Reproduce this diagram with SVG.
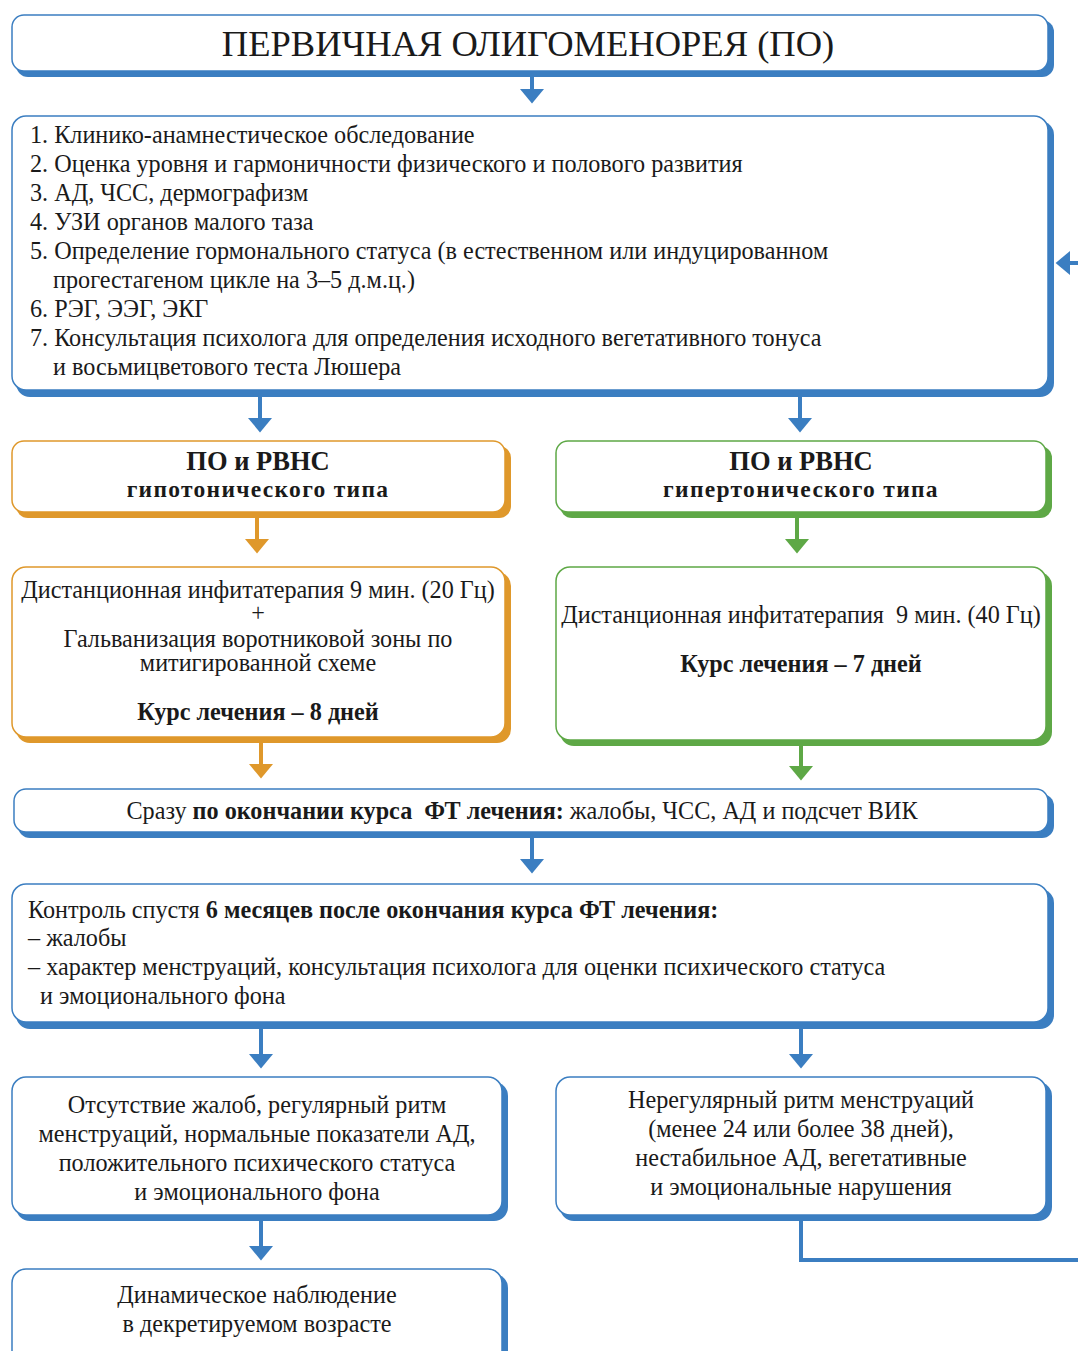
<svg xmlns="http://www.w3.org/2000/svg" width="1078" height="1351" viewBox="0 0 1078 1351">
<defs>
<style>
text{font-family:"Liberation Serif","Times New Roman",serif;fill:#1a1a1a;}
.t{font-size:24.2px;}
.c{text-anchor:middle;}
.b{font-weight:bold;}
.h1{font-size:26.5px;font-weight:bold;}
.h2{font-size:23.5px;font-weight:bold;letter-spacing:1.3px;}
.sb{fill:#3B7EC1;}
.so{fill:#DF982B;}
.sg{fill:#5EA846;}
.mb{fill:#fff;stroke:#3B7EC1;stroke-width:1.5;}
.mo{fill:#fff;stroke:#DF982B;stroke-width:1.5;}
.mg{fill:#fff;stroke:#5EA846;stroke-width:1.5;}
.lb{stroke:#3B7EC1;stroke-width:4;fill:none;}
.lo{stroke:#DF982B;stroke-width:4;fill:none;}
.lg{stroke:#5EA846;stroke-width:4;fill:none;}
</style>
<marker id="ab" markerWidth="4" markerHeight="6" refX="0" refY="3" orient="auto" markerUnits="strokeWidth"><path d="M0,0 L3.6,3 L0,6 Z" fill="#3B7EC1"/></marker>
<marker id="ao" markerWidth="4" markerHeight="6" refX="0" refY="3" orient="auto" markerUnits="strokeWidth"><path d="M0,0 L3.6,3 L0,6 Z" fill="#DF982B"/></marker>
<marker id="ag" markerWidth="4" markerHeight="6" refX="0" refY="3" orient="auto" markerUnits="strokeWidth"><path d="M0,0 L3.6,3 L0,6 Z" fill="#5EA846"/></marker>
</defs>

<g id="connectors">
<path class="lb" d="M532,76 V89" marker-end="url(#ab)"/>
<path class="lb" d="M260,396 V418" marker-end="url(#ab)"/>
<path class="lb" d="M800,396 V418" marker-end="url(#ab)"/>
<path class="lo" d="M257,517 V539" marker-end="url(#ao)"/>
<path class="lg" d="M797,517 V539" marker-end="url(#ag)"/>
<path class="lo" d="M261,742 V764" marker-end="url(#ao)"/>
<path class="lg" d="M801,745 V766" marker-end="url(#ag)"/>
<path class="lb" d="M532,838 V859" marker-end="url(#ab)"/>
<path class="lb" d="M261,1028 V1054" marker-end="url(#ab)"/>
<path class="lb" d="M801,1028 V1054" marker-end="url(#ab)"/>
<path class="lb" d="M261,1220 V1246" marker-end="url(#ab)"/>
<path class="lb" d="M801,1220 V1260 H1090 V263 H1070" marker-end="url(#ab)"/>
</g>

<g id="n1">
<rect class="sb" x="16" y="20" width="1038" height="57" rx="12"/>
<rect class="mb" x="12" y="15" width="1036" height="56" rx="12"/>
<text x="528" y="56" class="c" style="font-size:36.5px">ПЕРВИЧНАЯ ОЛИГОМЕНОРЕЯ (ПО)</text>
</g>

<g id="n2">
<rect class="sb" x="16" y="121" width="1038" height="276" rx="14"/>
<rect class="mb" x="12" y="116" width="1036" height="274" rx="14"/>
<text class="t" x="30" y="143">1. Клинико-анамнестическое обследование</text>
<text class="t" x="30" y="172">2. Оценка уровня и гармоничности физического и полового развития</text>
<text class="t" x="30" y="201">3. АД, ЧСС, дермографизм</text>
<text class="t" x="30" y="230">4. УЗИ органов малого таза</text>
<text class="t" x="30" y="259">5. Определение гормонального статуса (в естественном или индуцированном</text>
<text class="t" x="53" y="288">прогестагеном цикле на 3–5 д.м.ц.)</text>
<text class="t" x="30" y="317">6. РЭГ, ЭЭГ, ЭКГ</text>
<text class="t" x="30" y="346">7. Консультация психолога для определения исходного вегетативного тонуса</text>
<text class="t" x="53" y="375">и восьмицветового теста Люшера</text>
</g>

<g id="n3a">
<rect class="so" x="16" y="446" width="495" height="72" rx="12"/>
<rect class="mo" x="12" y="441" width="493" height="71" rx="12"/>
<text class="c h1" x="258" y="470">ПО и РВНС</text>
<text class="c h2" x="258" y="497">гипотонического типа</text>
</g>

<g id="n3b">
<rect class="sg" x="560" y="446" width="492" height="72" rx="12"/>
<rect class="mg" x="556" y="441" width="490" height="71" rx="12"/>
<text class="c h1" x="801" y="470">ПО и РВНС</text>
<text class="c h2" x="801" y="497">гипертонического типа</text>
</g>

<g id="n4a">
<rect class="so" x="16" y="572" width="495" height="171" rx="14"/>
<rect class="mo" x="12" y="567" width="493" height="170" rx="14"/>
<text class="t c" x="258" y="598">Дистанционная инфитатерапия 9 мин. (20 Гц)</text>
<text class="t c" x="258" y="621">+</text>
<text class="t c" x="258" y="647">Гальванизация воротниковой зоны по</text>
<text class="t c" x="258" y="671">митигированной схеме</text>
<text class="t c b" x="258" y="720">Курс лечения – 8 дней</text>
</g>

<g id="n4b">
<rect class="sg" x="560" y="572" width="492" height="174" rx="14"/>
<rect class="mg" x="556" y="567" width="490" height="173" rx="14"/>
<text class="t c" x="801" y="623" xml:space="preserve">Дистанционная инфитатерапия  9 мин. (40 Гц)</text>
<text class="t c b" x="801" y="672">Курс лечения – 7 дней</text>
</g>

<g id="n5">
<rect class="sb" x="18" y="794" width="1036" height="44" rx="12"/>
<rect class="mb" x="14" y="789" width="1034" height="43" rx="12"/>
<text class="t c" x="522" y="819" xml:space="preserve">Сразу <tspan class="b">по окончании курса  ФТ лечения:</tspan> жалобы, ЧСС, АД и подсчет ВИК</text>
</g>

<g id="n6">
<rect class="sb" x="16" y="889" width="1038" height="140" rx="14"/>
<rect class="mb" x="12" y="884" width="1036" height="138" rx="14"/>
<text class="t" x="28" y="918">Контроль спустя <tspan class="b">6 месяцев после окончания курса ФТ лечения:</tspan></text>
<text class="t" x="28" y="946">– жалобы</text>
<text class="t" x="28" y="975">– характер менструаций, консультация психолога для оценки психического статуса</text>
<text class="t" x="40" y="1004">и эмоционального фона</text>
</g>

<g id="n7a">
<rect class="sb" x="16" y="1082" width="492" height="139" rx="14"/>
<rect class="mb" x="12" y="1077" width="490" height="138" rx="14"/>
<text class="t c" x="257" y="1113">Отсутствие жалоб, регулярный ритм</text>
<text class="t c" x="257" y="1142">менструаций, нормальные показатели АД,</text>
<text class="t c" x="257" y="1171">положительного психического статуса</text>
<text class="t c" x="257" y="1200">и эмоционального фона</text>
</g>

<g id="n7b">
<rect class="sb" x="560" y="1082" width="492" height="139" rx="14"/>
<rect class="mb" x="556" y="1077" width="490" height="138" rx="14"/>
<text class="t c" x="801" y="1108">Нерегулярный ритм менструаций</text>
<text class="t c" x="801" y="1137">(менее 24 или более 38 дней),</text>
<text class="t c" x="801" y="1166">нестабильное АД, вегетативные</text>
<text class="t c" x="801" y="1195">и эмоциональные нарушения</text>
</g>

<g id="n8">
<rect class="sb" x="16" y="1274" width="492" height="100" rx="14"/>
<rect class="mb" x="12" y="1269" width="490" height="100" rx="14"/>
<text class="t c" x="257" y="1303">Динамическое наблюдение</text>
<text class="t c" x="257" y="1332">в декретируемом возрасте</text>
</g>
</svg>
